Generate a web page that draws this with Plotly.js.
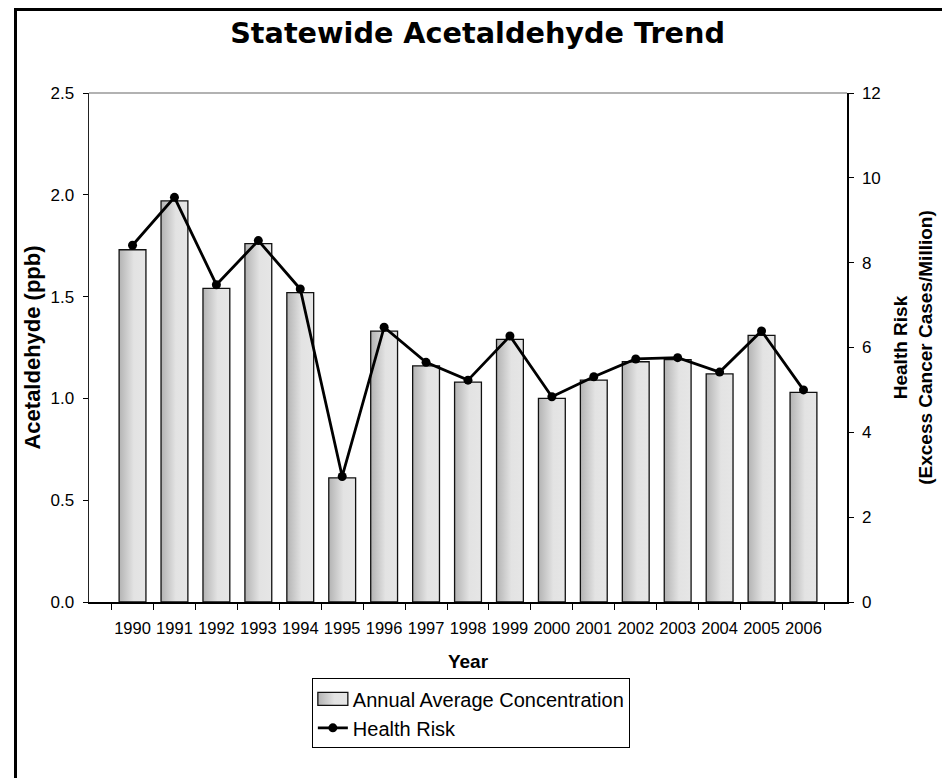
<!DOCTYPE html>
<html>
<head>
<meta charset="utf-8">
<script src="https://cdn.plot.ly/plotly-3.0.1.min.js"></script>
<style>
  html, body { margin: 0; padding: 0; background: #fff; overflow: hidden; }
  #wrap { position: relative; width: 942px; height: 778px; overflow: hidden; }
  #chart { position: absolute; left: 0; top: 0; width: 942px; height: 778px; }
  #frame { position: absolute; left: 14px; top: 8px; width: 928px; height: 770px; box-sizing: border-box;
           border-left: 3px solid #000; border-top: 3px solid #000; pointer-events: none; }
</style>
</head>
<body>
<div id="wrap">
  <div id="chart"></div>
  <div id="frame"></div>
</div>
<script>
const years = ['1990','1991','1992','1993','1994','1995','1996','1997','1998','1999','2000','2001','2002','2003','2004','2005','2006'];
const concentration = [1.73, 1.97, 1.54, 1.76, 1.52, 0.61, 1.33, 1.16, 1.08, 1.29, 1.00, 1.09, 1.18, 1.19, 1.12, 1.31, 1.03];
const healthRisk = [8.41, 9.54, 7.48, 8.52, 7.38, 2.96, 6.48, 5.65, 5.23, 6.27, 4.84, 5.31, 5.73, 5.76, 5.42, 6.39, 5.00];
const leftTicks = [0, 0.5, 1.0, 1.5, 2.0, 2.5];
const leftTickText = ['0.0', '0.5', '1.0', '1.5', '2.0', '2.5'];
const rightTicks = [0, 2, 4, 6, 8, 10, 12];

const baseFont = { family: 'Liberation Sans, Arial, sans-serif', color: '#000' };

const traces = [
  {
    type: 'bar', x: years, y: concentration, name: 'Annual Average Concentration',
    marker: { color: '#d4d4d4', line: { color: '#111', width: 1.3 } },
    yaxis: 'y', hoverinfo: 'x+y'
  },
  {
    type: 'scatter', mode: 'lines+markers', x: years, y: healthRisk, name: 'Health Risk',
    line: { color: '#000', width: 2.8 },
    marker: { color: '#000', size: 9, symbol: 'circle' },
    yaxis: 'y2', hoverinfo: 'x+y'
  }
];

const layout = {
  width: 942, height: 778,
  paper_bgcolor: '#fff', plot_bgcolor: '#fff',
  margin: { l: 88.5, r: 94.5, t: 92.5, b: 175.5 },
  font: Object.assign({ size: 17 }, baseFont),
  title: {
    text: 'Statewide Acetaldehyde Trend',
    font: { family: 'DejaVu Sans, sans-serif', size: 28.7, weight: 'bold', color: '#000' },
    x: 0.507, xanchor: 'center', y: 0.957, yanchor: 'middle'
  },
  bargap: 0.36,
  showlegend: true,
  legend: {
    x: 0.294, xanchor: 'left', y: -0.150, yanchor: 'top',
    bordercolor: '#000', borderwidth: 1, bgcolor: '#fff',
    font: Object.assign({ size: 20 }, baseFont),
    tracegroupgap: 0, itemwidth: 30
  },
  xaxis: {
    type: 'category', tickangle: 0,
    tickson: 'boundaries', ticks: 'outside', ticklen: 6, tickcolor: '#000', tickwidth: 1,
    ticklabelstandoff: 10,
    showline: true, linecolor: '#000', linewidth: 2,
    showgrid: false, zeroline: false,
    tickfont: Object.assign({ size: 16.5 }, baseFont),
    title: { text: '<b>Year</b>', font: Object.assign({ size: 19 }, baseFont), standoff: 19 }
  },
  yaxis: {
    range: [0, 2.5], tickvals: leftTicks, ticktext: leftTickText,
    ticks: 'outside', ticklen: 5, tickcolor: '#000', tickwidth: 1,
    ticklabelstandoff: 5,
    showline: true, linecolor: '#222', linewidth: 1.5,
    showgrid: false, zeroline: false,
    tickfont: Object.assign({ size: 17 }, baseFont),
    title: { text: '<b>Acetaldehyde (ppb)</b>', font: Object.assign({ size: 22 }, baseFont), standoff: 4 }
  },
  yaxis2: {
    range: [0, 12], tickvals: rightTicks,
    overlaying: 'y', side: 'right',
    ticks: 'outside', ticklen: 5, tickcolor: '#000', tickwidth: 1,
    ticklabelstandoff: 5,
    showline: true, linecolor: '#000', linewidth: 1.5,
    showgrid: false, zeroline: false,
    tickfont: Object.assign({ size: 17 }, baseFont),
    title: { text: '<b>Health Risk<br>(Excess Cancer Cases/Million)</b>', font: Object.assign({ size: 19 }, baseFont), standoff: 14 }
  },
  shapes: [
    { type: 'line', xref: 'paper', yref: 'paper', x0: 0, x1: 1, y0: 1, y1: 1,
      line: { color: '#999', width: 1.5 }, layer: 'below' }
  ]
};

Plotly.newPlot('chart', traces, layout, { staticPlot: true, displayModeBar: false }).then(function (gd) {
  const svg = gd.querySelector('.main-svg');
  const NS = 'http://www.w3.org/2000/svg';
  let defs = svg.querySelector('defs');
  if (!defs) { defs = document.createElementNS(NS, 'defs'); svg.insertBefore(defs, svg.firstChild); }
  const grad = document.createElementNS(NS, 'linearGradient');
  grad.setAttribute('id', 'barGrad');
  grad.setAttribute('x1', '0'); grad.setAttribute('x2', '1');
  grad.setAttribute('y1', '0'); grad.setAttribute('y2', '0');
  [['0%', '#b3b3b3'], ['55%', '#e3e3e3'], ['100%', '#e6e6e6']].forEach(function (s) {
    const st = document.createElementNS(NS, 'stop');
    st.setAttribute('offset', s[0]); st.setAttribute('stop-color', s[1]);
    grad.appendChild(st);
  });
  defs.appendChild(grad);
  gd.querySelectorAll('.barlayer .point path').forEach(function (p) { p.style.fill = 'url(#barGrad)'; });
  const legTraces = gd.querySelectorAll('.legend .traces');
  if (legTraces.length) {
    legTraces[0].querySelectorAll('.legendpoints path').forEach(function (p) {
      p.setAttribute('d', 'M-15,-6.5h30v13h-30Z');
      p.style.fill = 'url(#barGrad)';
      p.style.stroke = '#111';
      p.style.strokeWidth = '1.3px';
    });
  }
});
</script>
</body>
</html>
